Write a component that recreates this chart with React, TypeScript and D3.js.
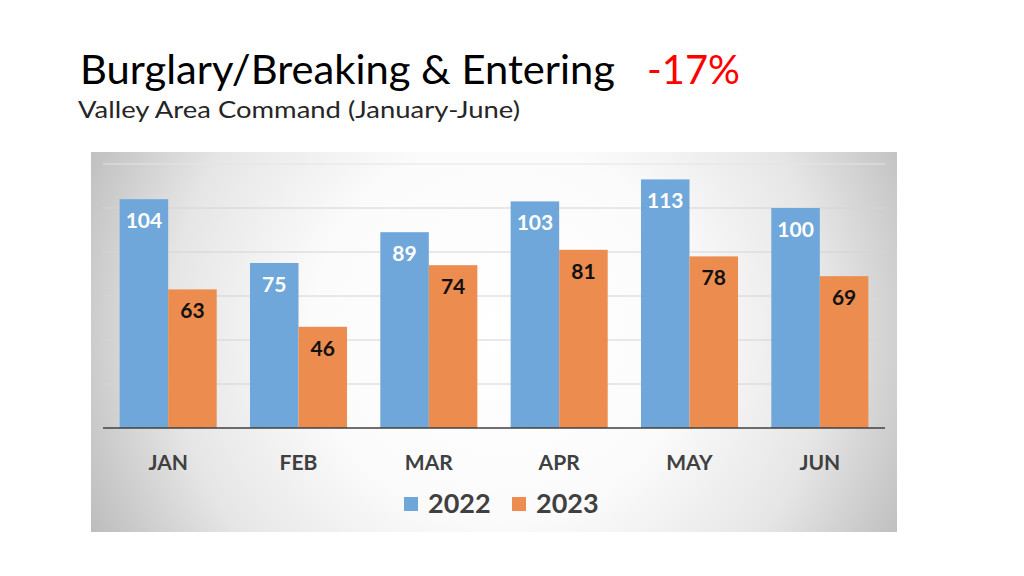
import React from "react";
import * as d3 from "d3";

const months = ["JAN", "FEB", "MAR", "APR", "MAY", "JUN"];
const seriesNames = ["2022", "2023"];
const values2022 = [104, 75, 89, 103, 113, 100];
const values2023 = [63, 46, 74, 81, 78, 69];
const yTicks = [0, 20, 40, 60, 80, 100, 120];

const colors: Record<string, string> = { "2022": "#6fa7da", "2023": "#ec8c4e" };
const labelColors: Record<string, string> = { "2022": "#ffffff", "2023": "#111111" };

export default function App() {
  const W = 1024, H = 576;
  const plot = { left: 103, right: 885, top: 164, bottom: 428 };
  const x0 = d3.scaleBand<string>().domain(months).range([plot.left, plot.right]).padding(0);
  const x1 = d3.scaleBand<string>().domain(seriesNames).range([0, x0.bandwidth()]).paddingInner(0).paddingOuter(0.343);
  const y = d3.scaleLinear().domain([0, 120]).range([plot.bottom, plot.top]);
  const data = months.map((m, i) => ({ m, vals: [{ s: "2022", v: values2022[i] }, { s: "2023", v: values2023[i] }] }));
  const font = "Lato, 'Open Sans', sans-serif";

  return (
    <svg width={W} height={H} style={{ position: "absolute", left: 0, top: 0, background: "#fff" }} fontFamily={font}>
      <defs>
        <radialGradient id="bg" gradientUnits="userSpaceOnUse" cx={500} cy={330} r={470}>
          <stop offset="0%" stopColor="#ffffff" />
          <stop offset="40%" stopColor="#fbfbfb" />
          <stop offset="70%" stopColor="#e6e6e6" />
          <stop offset="100%" stopColor="#b8b8b8" />
        </radialGradient>
      </defs>
      <text x={80} y={84} fontFamily="Lato, sans-serif" fontSize={40} fill="#000" textLength={535} lengthAdjust="spacingAndGlyphs">
        Burglary/Breaking &amp; Entering
      </text>
      <text x={647} y={84} fontFamily="Lato, sans-serif" fontSize={40} fill="#ff0000" textLength={93} lengthAdjust="spacingAndGlyphs">-17%</text>
      <text x={78} y={118} fontFamily="Lato, sans-serif" fontSize={24} fontWeight={400} fill="#262626" textLength={442} lengthAdjust="spacingAndGlyphs">
        Valley Area Command (January-June)
      </text>

      <rect x={91} y={152} width={806} height={380} fill="url(#bg)" />

      {yTicks.filter(t => t > 0).map(t => (
        <line key={t} x1={plot.left} x2={plot.right} y1={y(t)} y2={y(t)} stroke={t === 120 ? "#e4e4e4" : "#d4d4d4"} strokeWidth={1} />
      ))}

      {data.map(d => (
        <g key={d.m} transform={`translate(${x0(d.m)},0)`}>
          {d.vals.map(b => (
            <g key={b.s}>
              <rect x={x1(b.s)} y={y(b.v)} width={x1.bandwidth()} height={y(0) - y(b.v)} fill={colors[b.s]} />
              <text x={(x1(b.s) as number) + x1.bandwidth() / 2} y={y(b.v) + 29} textAnchor="middle" fontSize={21} fontWeight={700} fill={labelColors[b.s]}>
                {b.v}
              </text>
            </g>
          ))}
          <text x={x0.bandwidth() / 2} y={470} textAnchor="middle" fontSize={21} fontWeight={700} fill="#404040">{d.m}</text>
        </g>
      ))}

      <line x1={plot.left} x2={plot.right} y1={plot.bottom} y2={plot.bottom} stroke="#404040" strokeWidth={1.5} />

      {seriesNames.map((s, i) => {
        const lx = 404 + i * 108;
        return (
          <g key={s}>
            <rect x={lx} y={497} width={14} height={14} fill={colors[s]} />
            <text x={lx + 24} y={513} fontSize={27} fontWeight={700} fill="#404040">{s}</text>
          </g>
        );
      })}
    </svg>
  );
}
